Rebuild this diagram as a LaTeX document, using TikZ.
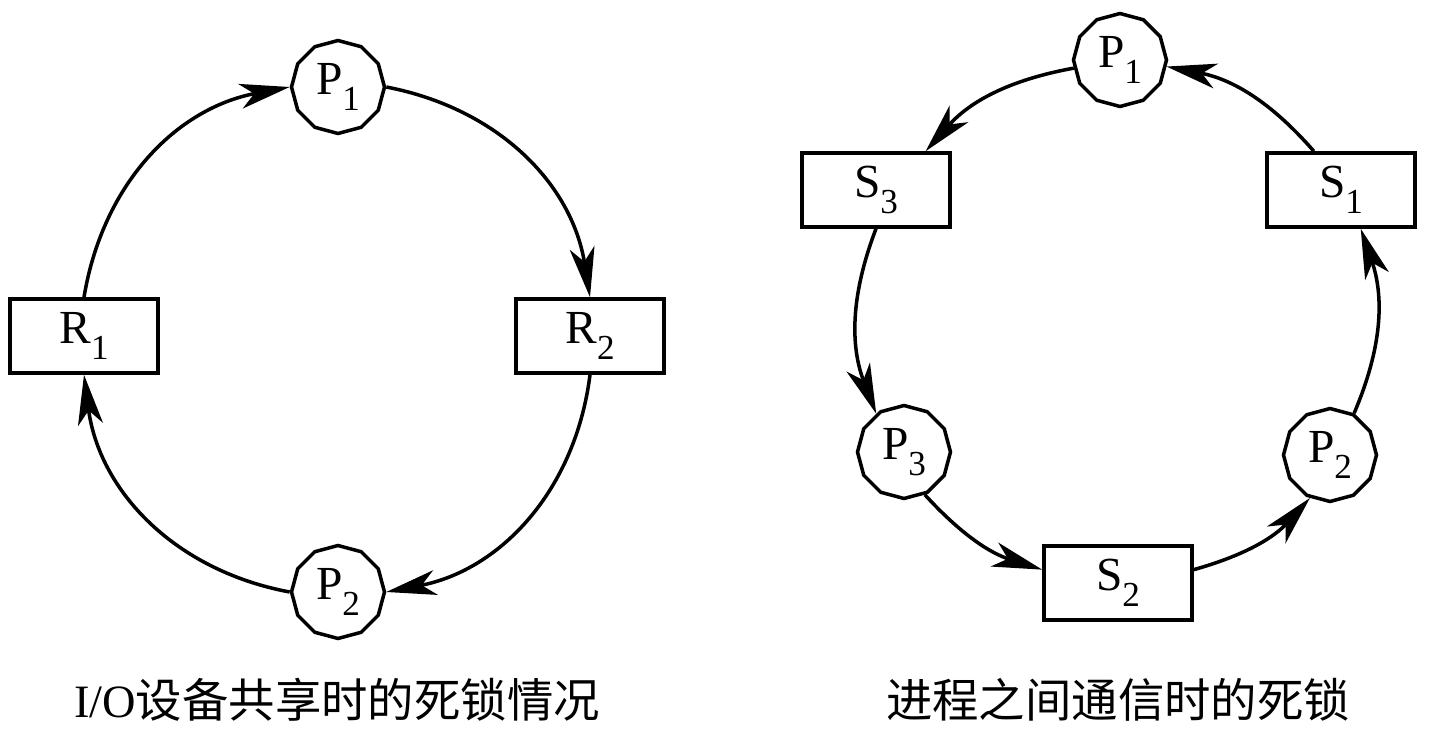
\documentclass[tikz,border=0pt]{standalone}
\usepackage{fontspec}
\setmainfont{Liberation Serif}
\newfontfamily\cjk{Noto Sans CJK SC}
\usetikzlibrary{shapes.geometric,arrows.meta}
\newcommand{\plab}[2]{#1\raisebox{-0.33em}{\fontsize{20}{20}\selectfont #2}}
\tikzset{
  proc/.style={draw,regular polygon,regular polygon sides=12,shape border rotate=15,
    minimum size=1.86cm,inner sep=0pt,line width=2pt,font=\fontsize{27}{27}\selectfont},
  res/.style={draw,rectangle,minimum width=2.96cm,minimum height=1.48cm,inner sep=0pt,
    line width=2pt,font=\fontsize{27}{27}\selectfont},
  arr/.style={line width=2pt,-{Stealth[length=1cm,width=0.5cm,inset=0.28cm]}}
}
\begin{document}
\begin{tikzpicture}[x=0.02cm,y=-0.02cm]
\useasboundingbox (0,0) rectangle (1445,750);
% I/O devices
\node[res] (r1) at (84,336) {\plab{R}{1}};
\node[res] (r2) at (590,336) {\plab{R}{2}};
\node[proc] (lp1) at (338,87) {\plab{P}{1}};
\node[proc] (lp2) at (338,592) {\plab{P}{2}};
\draw[arr] (r1.north) to[bend left=35] (lp1.west);
\draw[arr] (lp1.east) to[bend left=35] (r2.north);
\draw[arr] (r2.south) to[bend left=36] (lp2.east);
\draw[arr] (lp2.west) to[bend left=36] (r1.south);
\node[font=\fontsize{26.4}{26.4}\selectfont] (cap1) at (337,700) {I/O{\cjk 设备共享时的死锁情况}};
% communication
\node[proc] (rp1) at (1120,60) {\plab{P}{1}};
\node[proc] (rp2) at (1330,455) {\plab{P}{2}};
\node[proc] (rp3) at (904,452) {\plab{P}{3}};
\node[res] (s1) at (1341,190) {\plab{S}{1}};
\node[res] (s2) at (1118,583) {\plab{S}{2}};
\node[res] (s3) at (876,190) {\plab{S}{3}};
\draw[arr] (rp1.190) to[bend right=19] (s3.38);
\draw[arr] (s3.south) to[bend right=21] (rp3.126);
\draw[arr] (rp3.-64) to[bend right=15] (s2.170);
\draw[arr] (s2.10) to[bend right=16] (rp2.-115);
\draw[arr] (rp2.60) to[bend right=21] (s1.-63);
\draw[arr] (s1.125) to[bend right=19] (rp1.-8);
\node[font=\fontsize{26.4}{26.4}\selectfont] (cap2) at (1118,700) {\cjk 进程之间通信时的死锁};
\end{tikzpicture}
\end{document}
